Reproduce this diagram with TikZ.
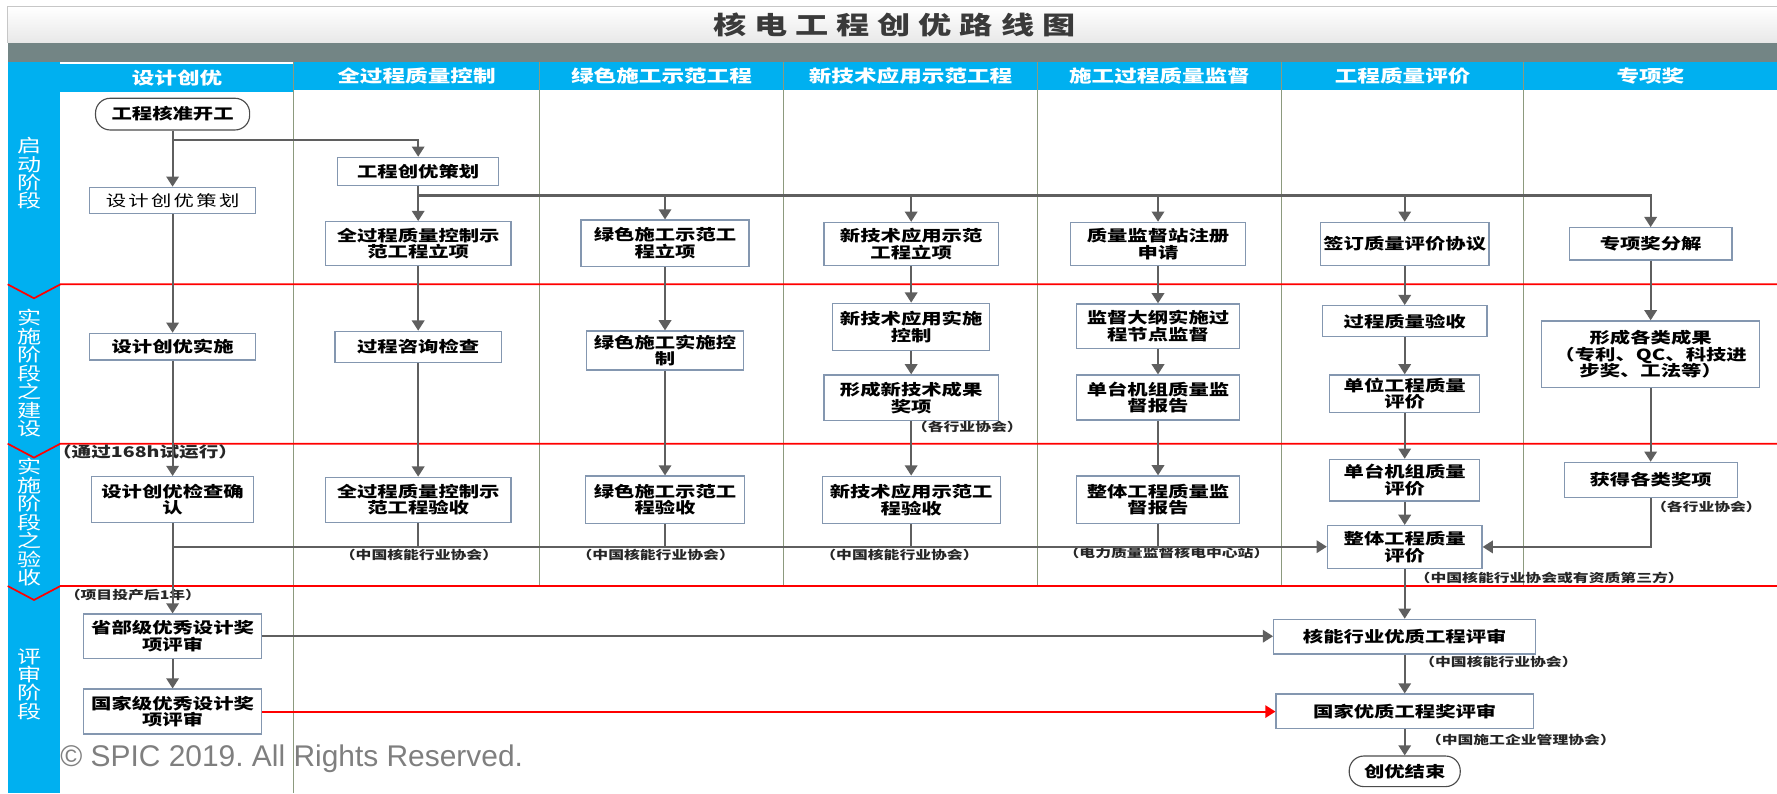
\documentclass[tikz,border=0pt]{standalone}
\usepackage{fontspec}
\setmainfont{Liberation Sans}
\newfontfamily\cjk{Noto Sans CJK SC}[FakeStretch=1.33]
\newfontfamily\cjkspaced{Noto Sans CJK SC}[FakeStretch=1.33,LetterSpace=15]
\newfontfamily\cjktitle{Noto Sans CJK SC}[FakeStretch=1.33,LetterSpace=32]
\usetikzlibrary{arrows.meta,positioning,calc}

\definecolor{laneblue}{HTML}{00B0F0}
\definecolor{bargray}{HTML}{738585}
\definecolor{boxline}{HTML}{8497B0}
\definecolor{flowgray}{HTML}{5F5F5F}
\definecolor{laneline}{HTML}{8C9A7E}
\definecolor{titlegray}{HTML}{3A3A3A}
\definecolor{markgray}{HTML}{7F7F7F}

\newcommand{\boxfont}{\cjk\bfseries\fontsize{13.5}{14.7}\selectfont}
\newcommand{\headfont}{\cjk\bfseries\fontsize{15}{16}\selectfont}
\newcommand{\stagefont}{\cjk\fontsize{16}{16.3}\selectfont}
\newcommand{\notefont}{\cjk\bfseries\fontsize{10.5}{11.5}\selectfont}
\newcommand{\trialfont}{\cjk\bfseries\fontsize{13}{14}\selectfont}

\tikzset{%
      stepbox/.style = { draw=boxline, fill=white, line width=1.1pt, font=\boxfont, align=center, inner sep=0pt },
     endpoint/.style = { draw=black!70, fill=white, line width=1pt, rounded corners=13pt, font=\boxfont, inner sep=0pt },
 boxsz/.style 2 args = { minimum width=#1, minimum height=#2 },
     headcell/.style = { fill=laneblue, text=white, font=\headfont, inner sep=0pt, minimum height=25 },
    stagetext/.style = { text=white, font=\stagefont, align=center, inner sep=0pt },
         note/.style = { font=\notefont, text=black!85, inner sep=0pt },
         flow/.style = { draw=flowgray, line width=1.8pt, -{Triangle[width=11pt,length=9pt]} },
         link/.style = { draw=flowgray, line width=1.8pt },
      redflow/.style = { draw=red, line width=1.6pt, -{Triangle[width=11pt,length=9pt]} },
      redline/.style = { draw=red, line width=1.5pt },
     laneedge/.style = { draw=laneline, line width=1.1pt }
}

\begin{document}
\begin{tikzpicture}[x=1pt,y=-1pt]
  \useasboundingbox (0,0) rectangle (1568,700);

  % title bar and lanes
  \shade[top color=white, bottom color=black!9] (6.75,5.9) rectangle (1568,37.6);
  \draw[black!22, line width=1pt] (6.75,37.6) -- (6.75,5.9) -- (1568,5.9);
  \fill[bargray] (6.75,37.6) rectangle (1568,54.4);
  \fill[laneblue] (6.75,54.4) rectangle (53.3,700);
  \node[font={\cjktitle\bfseries\fontsize{22}{24}\selectfont}, text=titlegray] (title) at (789,22) {核电工程创优路线图};

  \node[headcell, minimum width=205.7, minimum height=24.5] (hdesign) at (156.2,68.7) {设计创优};
  \node[headcell, minimum width=217] (hquality) at (367.5,67) {全过程质量控制};
  \node[headcell, minimum width=215.5] (hgreen) at (583.7,67) {绿色施工示范工程};
  \node[headcell, minimum width=223.9] (hnewtech) at (803.5,67) {新技术应用示范工程};
  \node[headcell, minimum width=215.4] (hsuperv) at (1023.1,67) {施工过程质量监督};
  \node[headcell, minimum width=213.8] (heval) at (1237.7,67) {工程质量评价};
  \node[headcell, minimum width=223.4] (hspecial) at (1456.3,67) {专项奖};

  \foreach \x in {476,691.5,915.4,1130.8,1344.6}
    \draw[laneedge] (\x,54.4) -- (\x,517.1);
  \draw[laneedge] (259,54.4) -- (259,700);
  \foreach \y in {250.9,391.5,517.1}
    \draw[redline] (6.75,\y) -- (30,\y+12.3) -- (53.3,\y) -- (1568,\y);

  \node[stagetext] (stgstart) at (26.5,153) {启\\动\\阶\\段};
  \node[stagetext] (stgbuild) at (26,329.4) {实\\施\\阶\\段\\之\\建\\设};
  \node[stagetext] (stgcheck) at (26,461) {实\\施\\阶\\段\\之\\验\\收};
  \node[stagetext] (stgreview) at (26,603.7) {评\\审\\阶\\段};

  % design lane
  \node[endpoint, minimum width=136, minimum height=28] (start) at (152.3,100.7) {工程核准开工};
  \node[stepbox, boxsz={146}{23}, font=\cjkspaced\fontsize{13.5}{14.7}\selectfont] (dplan) at (152.3,176.8) {设计创优策划};
  \node[stepbox, boxsz={146}{23.5}] (dimpl) at (152.3,305.9) {设计创优实施};
  \node[stepbox, boxsz={142.6}{40.3}] (dcheck) at (152.3,440.7) {设计创优检查确\\认};
  \node[stepbox, boxsz={157}{39.1}] (dprov) at (152.3,561.4) {省部级优秀设计奖\\项评审};
  \node[stepbox, boxsz={157}{39.7}] (dnat) at (152.3,627.9) {国家级优秀设计奖\\项评审};

  % quality control lane
  \node[stepbox, boxsz={142}{24.7}] (qplan) at (369,151.2) {工程创优策划};
  \node[stepbox, boxsz={164}{38.8}] (qstart) at (369,215) {全过程质量控制示\\范工程立项};
  \node[stepbox, boxsz={146.6}{27.7}] (qcheck) at (369,306.2) {过程咨询检查};
  \node[stepbox, boxsz={164}{39.7}] (qaccept) at (369,441) {全过程质量控制示\\范工程验收};

  % green construction lane
  \node[stepbox, boxsz={148.4}{41}] (gstart) at (586.8,214.7) {绿色施工示范工\\程立项};
  \node[stepbox, boxsz={139}{34.4}] (gctrl) at (586.8,309.3) {绿色施工实施控\\制};
  \node[stepbox, boxsz={139.7}{41.8}] (gaccept) at (586.8,441) {绿色施工示范工\\程验收};

  % new technology lane
  \node[stepbox, boxsz={154}{38}] (nstart) at (804,215.3) {新技术应用示范\\工程立项};
  \node[stepbox, boxsz={138.4}{41.8}] (nctrl) at (804,288.5) {新技术应用实施\\控制};
  \node[stepbox, boxsz={154}{40.3}] (naward) at (804,351) {形成新技术成果\\奖项};
  \node[stepbox, boxsz={157}{42}] (naccept) at (804,441.2) {新技术应用示范工\\程验收};

  % supervision lane
  \node[stepbox, boxsz={154.4}{38.2}] (sreg) at (1021.8,215.3) {质量监督站注册\\申请};
  \node[stepbox, boxsz={143.6}{39}] (soutline) at (1021.8,287.7) {监督大纲实施过\\程节点监督};
  \node[stepbox, boxsz={143.6}{39.7}] (sunit) at (1021.8,350.8) {单台机组质量监\\督报告};
  \node[stepbox, boxsz={143.6}{41.8}] (swhole) at (1021.8,440.9) {整体工程质量监\\督报告};

  % evaluation lane
  \node[stepbox, boxsz={148.6}{38.2}] (esign) at (1239.5,215.3) {签订质量评价协议};
  \node[stepbox, boxsz={145}{27.3}] (eproc) at (1239.5,283.4) {过程质量验收};
  \node[stepbox, boxsz={132.4}{33}] (eunit) at (1239.5,347.3) {单位工程质量\\评价};
  \node[stepbox, boxsz={132.4}{36.7}] (eset) at (1239.5,423.7) {单台机组质量\\评价};
  \node[stepbox, boxsz={136.4}{37.7}] (ewhole) at (1239.5,482.6) {整体工程质量\\评价};
  \node[stepbox, boxsz={231.3}{30.6}] (enuc) at (1239.5,561.8) {核能行业优质工程评审};
  \node[stepbox, boxsz={227}{30.3}] (enat) at (1239.5,627.6) {国家优质工程奖评审};
  \node[endpoint, minimum width=98, minimum height=27] (finish) at (1239.5,680.6) {创优结束};

  % special award lane
  \node[stepbox, boxsz={143.6}{28.5}] (pdecomp) at (1456.5,215.2) {专项奖分解};
  \node[stepbox, boxsz={192.5}{58.6}] (presult) at (1456.5,312.5) {形成各类成果\\（专利、QC、科技进\\步奖、工法等）};
  \node[stepbox, boxsz={152.7}{31}] (paward) at (1456.5,423.5) {获得各类奖项};

  % notes
  \node[note, font=\trialfont] (ntrial) at (128,398.5) {（通过168h试运行）};
  \node[note] (nqual) at (369.7,490) {（中国核能行业协会）};
  \node[note] (ngreen) at (578.6,490) {（中国核能行业协会）};
  \node[note] (nnew) at (793.7,490) {（中国核能行业协会）};
  \node[note] (nsuperv) at (1029.3,488.2) {（电力质量监督核电中心站）};
  \node[note] (ntech) at (853.6,376.5) {（各行业协会）};
  \node[note] (nspecial) at (1505.7,447.6) {（各行业协会）};
  \node[note] (neval) at (1367,509.7) {（中国核能行业协会或有资质第三方）};
  \node[note] (nyear) at (117.3,525) {（项目投产后1年）};
  \node[note] (nnuc) at (1322.2,584.4) {（中国核能行业协会）};
  \node[note] (nnat) at (1342,653) {（中国施工企业管理协会）};
  \node[anchor=base west, inner sep=0pt, text=markgray, font=\fontsize{26.4}{28}\selectfont] (copyr) at (53,676.5) {© SPIC 2019.\ All Rights Reserved.};

  % connectors
  \coordinate (brA) at (152.3,123.5);
  \coordinate (brB) at (369,172.5);
  \coordinate (coll) at (152.3,482.4);
  \draw[flow] (brA) -| (qplan);
  \draw[flow] (brB) -| (pdecomp);
  \foreach \n in {gstart,nstart,sreg,esign}
    \draw[flow] (brB -| \n.north) -- (\n);
  \foreach \a/\b in {start/dplan, dplan/dimpl, dimpl/dcheck, dcheck/dprov, dprov/dnat,
                     qplan/qstart, qstart/qcheck, qcheck/qaccept,
                     gstart/gctrl, gctrl/gaccept,
                     nstart/nctrl, nctrl/naward, naward/naccept,
                     sreg/soutline, soutline/sunit, sunit/swhole,
                     esign/eproc, eproc/eunit, eunit/eset, eset/ewhole,
                     ewhole/enuc, enuc/enat, enat/finish,
                     pdecomp/presult, presult/paward}
    \draw[flow] (\a) -- (\b);
  \foreach \n in {qaccept,gaccept,naccept,swhole}
    \draw[link] (\n) -- (\n |- coll);
  \draw[flow] (coll) -- (coll -| ewhole.west);
  \draw[flow] (paward) |- (ewhole);
  \draw[flow] (dprov) -- (dprov -| enuc.west);
  \draw[redflow] (dnat) -- (dnat -| enat.west);
\end{tikzpicture}
\end{document}
